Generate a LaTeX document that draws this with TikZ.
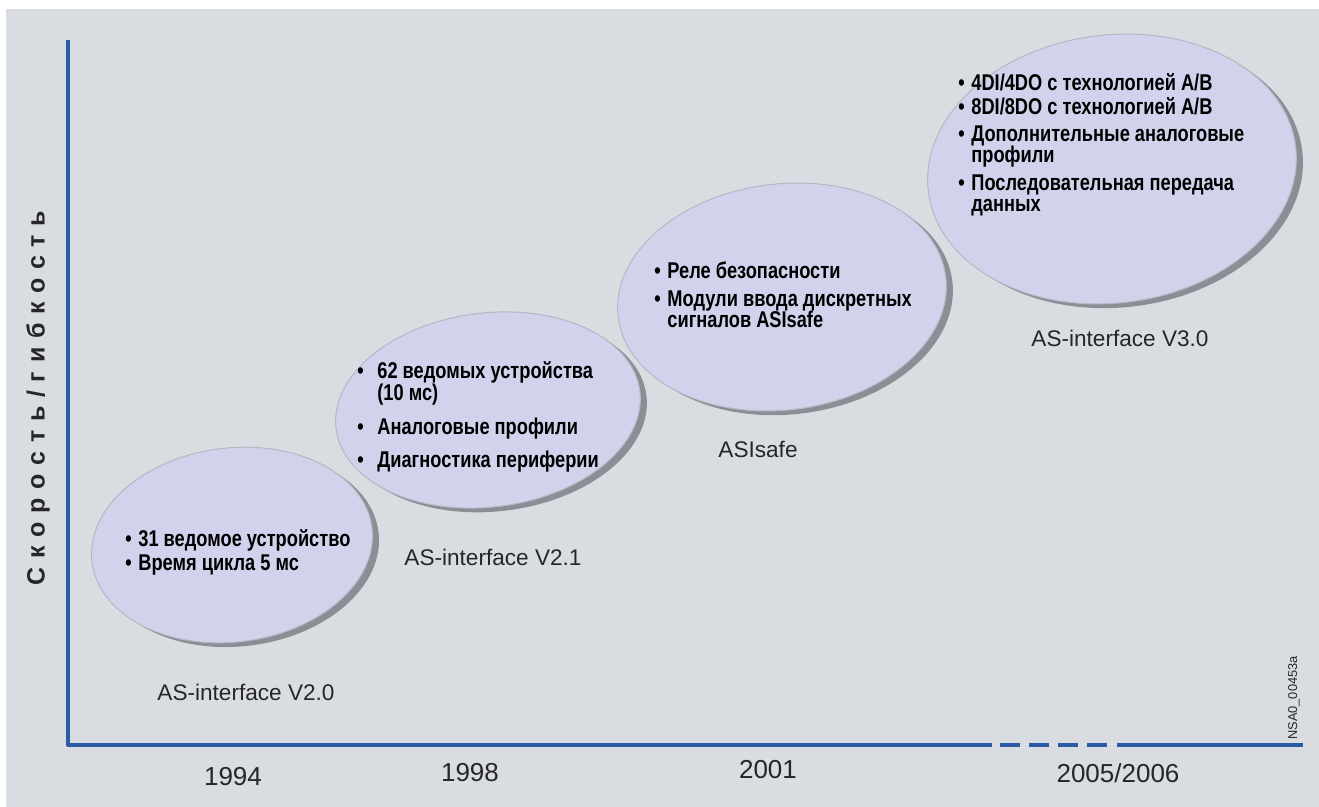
\documentclass[tikz,border=0pt]{standalone}
\usepackage{fontspec}
\setmainfont{Liberation Sans}
\newfontfamily\narrowbold[FakeStretch=0.8]{Liberation Sans}
\newfontfamily\spacedbold[LetterSpace=35]{Liberation Sans}
\usepackage{tikz}
\definecolor{axisblue}{HTML}{2D5AA6}
\definecolor{bggray}{HTML}{D9DDE1}
\definecolor{ovalfill}{HTML}{D1D3EC}
\definecolor{ovalshadow}{HTML}{8C8E96}
\definecolor{ovaledge}{HTML}{B5B7C4}
\newcommand{\itm}[2][6.5pt]{\makebox[#1][l]{•}#2}
\newcommand{\tightlines}{\lineskiplimit-20pt\relax}

\begin{document}
\begin{tikzpicture}[x=0.5pt, y=-0.5pt, line join=round,
    axis/.style={axisblue, line width=2pt},
    items/.style={anchor=west, align=left, inner sep=0pt,
      font=\narrowbold\bfseries\fontsize{11.4}{10.6}\selectfont\tightlines},
    version/.style={text=black!85, font=\fontsize{11.3}{13}\selectfont},
    year/.style={text=black!85, font=\fontsize{13}{15}\selectfont}]
  % page and panel
  \fill[white] (0,0) rectangle (1319,807);
  \fill[bggray] (6,9) rectangle (1319,807);
  \useasboundingbox (0,0) rectangle (1319,807);
  % axes with a break in the time axis
  \coordinate (ytop) at (68,40);
  \coordinate (O) at (68,745);
  \coordinate (xbreak) at (992,745);
  \coordinate (dashstart) at (1000,745);
  \coordinate (dashend) at (1108,745);
  \coordinate (xresume) at (1117,745);
  \coordinate (xend) at (1303,745);
  \draw[axis] (ytop) -- (O) -- (xbreak);
  \draw[axis, dash pattern=on 10pt off 4.5pt] (dashstart) -- (dashend);
  \draw[axis] (xresume) -- (xend);
  % the four ovals, each with its shadow
  \foreach \cx/\cy/\rx/\ry in {232/545/141/97, 488/410/153/97,
      782/297/165/113, 1112/169/185/134} {
    \fill[ovalshadow, rotate around={7:(\cx,\cy)}]
      (\cx+6,\cy+5) ellipse [x radius=\rx, y radius=\ry];
    \filldraw[fill=ovalfill, draw=ovaledge, line width=0.5pt,
      rotate around={7:(\cx,\cy)}]
      (\cx,\cy) ellipse [x radius=\rx, y radius=\ry];
  }
  % contents of the ovals
  \node[items] (v20list) at (125,552)
    {\itm{31 ведомое устройство}\\[1.5pt]\itm{Время цикла 5 мс}};
  \node[items] (v21list) at (357,417)
    {\itm[10pt]{62 ведомых устройства}\\\hspace*{10pt}(10 мс)\\[6.5pt]
     \itm[10pt]{Аналоговые профили}\\[6pt]\itm[10pt]{Диагностика периферии}};
  \node[items] (safelist) at (654,295)
    {\itm{Реле безопасности}\\[3.5pt]\itm{Модули ввода дискретных}\\
     \hspace*{6.5pt}сигналов ASIsafe};
  \node[items] (v30list) at (958,145)
    {\itm[6.5pt]{4DI/4DO с технологией A/B}\\[1.5pt]\itm[6.5pt]{8DI/8DO с технологией A/B}\\[2.5pt]
     \itm[6.5pt]{Дополнительные аналоговые}\\\hspace*{6.5pt}профили\\[3.5pt]
     \itm[6.5pt]{Последовательная передача}\\\hspace*{6.5pt}данных};
  % version names
  \node[version] (v20) at (246,692) {AS-interface V2.0};
  \node[version] (v21) at (493,557) {AS-interface V2.1};
  \node[version] (safe) at (758,449) {ASIsafe};
  \node[version] (v30) at (1120,338) {AS-interface V3.0};
  % years under the time axis
  \node[year] (y1994) at (233,777) {1994};
  \node[year] (y1998) at (470,773) {1998};
  \node[year] (y2001) at (768,770) {2001};
  \node[year] (y2005) at (1118,773) {2005/2006};
  % axis title and drawing number
  \node[rotate=90, text=black!85,
    font=\spacedbold\bfseries\fontsize{12.5}{14}\selectfont] (ylabel) at (38,398)
    {Скорость/гибкость};
  \node[rotate=90, text=black!85, font=\fontsize{6.4}{7}\selectfont] (docno)
    at (1294,698) {NSA0\_00453a};
\end{tikzpicture}
\end{document}
